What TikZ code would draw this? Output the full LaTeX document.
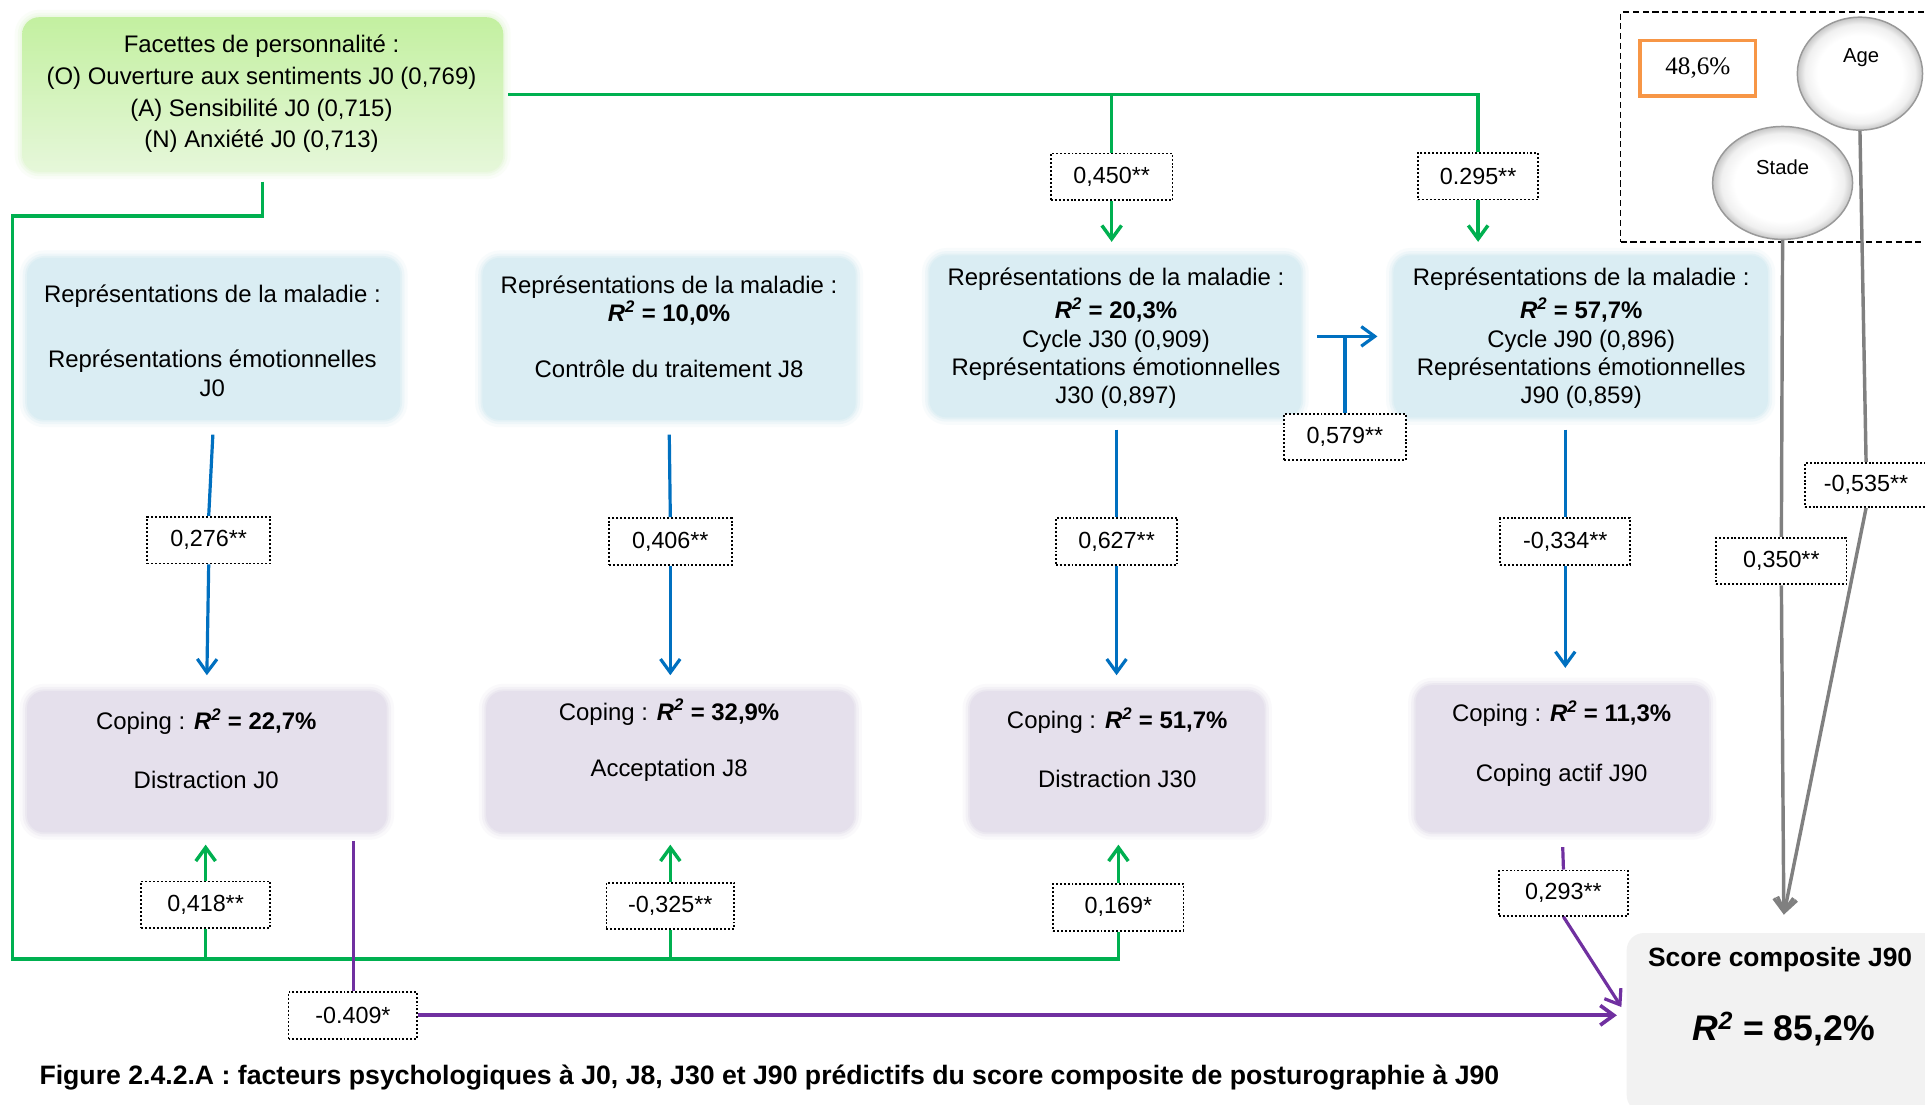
\documentclass[tikz,border=0pt]{standalone}
\usepackage{fontspec}
\setmainfont{Liberation Sans}
\newfontfamily\timesfam{Liberation Serif}
\usetikzlibrary{arrows.meta,shapes.geometric,shadows}
\definecolor{GreenTop}{HTML}{C3F0A0}
\definecolor{GreenBot}{HTML}{E6F7DA}
\definecolor{BlueF}{HTML}{DAEDF3}
\definecolor{LavF}{HTML}{E5E0EC}
\definecolor{ScoreF}{HTML}{F2F2F2}
\definecolor{GL}{HTML}{00B050}
\definecolor{BL}{HTML}{0070C0}
\definecolor{PL}{HTML}{7030A0}
\definecolor{GY}{HTML}{808080}
\definecolor{OR}{HTML}{F79646}
\pgfdeclareradialshading{bubbleshade}{\pgfpoint{0bp}{0bp}}{color(0bp)=(white); color(17bp)=(white); color(22bp)=(black!6); color(25bp)=(black!22); color(50bp)=(black!22)}
\newcommand\fmain{\fontsize{19.5}{23}\selectfont}
\newcommand\flbl{\fontsize{19}{22}\selectfont}
\newcommand\rsq{\textbf{\textit{R}}\textsuperscript{\textbf{\textit{2}}}}
\begin{document}
\begin{tikzpicture}[x=1pt,y=-1pt,
  boxbase/.style={rounded corners=14, inner sep=0pt, outer sep=0pt},
  softedge/.style={preaction={draw=#1, line width=12, opacity=.18},
                   preaction={draw=#1, line width=7, opacity=.3},
                   preaction={draw=#1, line width=3, opacity=.5}},
  greenbox/.style={boxbase, top color=GreenTop, bottom color=GreenBot, draw=none, softedge=GreenBot},
  bluebox/.style={boxbase, fill=BlueF, softedge=BlueF},
  lavbox/.style={boxbase, fill=LavF, softedge=LavF},
  txt/.style={align=center, inner sep=0pt, font=\fmain},
  lbl/.style={draw=black, dash pattern={on 1.6pt off 1.6pt}, line width=1.5, fill=white,
     inner sep=0pt, minimum height=38, font=\flbl},
  gcon/.style={draw=GL, line width=2.8},
  bcon/.style={draw=BL, line width=2.6},
  pcon/.style={draw=PL, line width=2.6},
  ycon/.style={draw=GY, line width=2.8},
  arrowtip/.style={-{Straight Barb[length=11,width=16]}},
  bubble/.style={ellipse, draw=GY!80, line width=1.2, shading=bubbleshade, inner sep=0pt}
]
\useasboundingbox (0,0) rectangle (1568,900);
\fill[white] (0,0) rectangle (1568,900);

% ---------- boxes ----------
\node[greenbox, minimum width=392, minimum height=126] (fac) at (214,77) {};
\node[txt, font=\fontsize{19.5}{25.7}\selectfont] (fact) at (213,76.5)
  {Facettes de personnalité :\\(O) Ouverture aux sentiments J0 (0,769)\\(A) Sensibilité J0 (0,715)\\(N) Anxiété J0 (0,713)};

\node[bluebox, minimum width=304, minimum height=132] (rep1) at (174,276) {};
\node[bluebox, minimum width=304, minimum height=132] (rep2) at (545,276) {};
\node[bluebox, minimum width=303, minimum height=132] (rep3) at (908.5,274) {};
\node[bluebox, minimum width=305, minimum height=132] (rep4) at (1287.5,274) {};

\node[txt] (rep1t) at (173,277.5) {Représentations de la maladie :\\[30pt]Représentations émotionnelles\\J0};
\node[txt] (rep2t) at (545,266) {Représentations de la maladie :\\\rsq\textbf{ = 10,0\%}\\[22pt]Contrôle du traitement J8};
\node[txt] (rep3t) at (909,275.5) {Représentations de la maladie :\\[4pt]\rsq\textbf{ = 20,3\%}\\Cycle J30 (0,909)\\Représentations émotionnelles\\J30 (0,897)};
\node[txt] (rep4t) at (1288,275.5) {Représentations de la maladie :\\[4pt]\rsq\textbf{ = 57,7\%}\\Cycle J90 (0,896)\\Représentations émotionnelles\\J90 (0,859)};

\node[lavbox, minimum width=293, minimum height=115] (cop1) at (168.5,620.5) {};
\node[lavbox, minimum width=300, minimum height=115] (cop2) at (546,620.5) {};
\node[lavbox, minimum width=240, minimum height=115] (cop3) at (910,620.5) {};
\node[lavbox, minimum width=239, minimum height=120] (cop4) at (1272.5,618) {};

\node[txt] (cop1t) at (168,610) {Coping : \rsq\textbf{ = 22,7\%}\\[25pt]Distraction J0};
\node[txt] (cop2t) at (545,603) {Coping : \rsq\textbf{ = 32,9\%}\\[23pt]Acceptation J8};
\node[txt] (cop3t) at (910,609) {Coping : \rsq\textbf{ = 51,7\%}\\[25pt]Distraction J30};
\node[txt] (cop4t) at (1272,605.5) {Coping : \rsq\textbf{ = 11,3\%}\\[26pt]Coping actif J90};

\node[boxbase, fill=ScoreF, minimum width=256, minimum height=146,
  drop shadow={shadow xshift=2pt, shadow yshift=-3pt, fill=black!35, opacity=.5}] (score) at (1453,833) {};
\node[txt, font=\fontsize{21.5}{25}\selectfont\bfseries] (scoret1) at (1450,782) {Score composite J90};
\node[txt, font=\fontsize{29}{34}\selectfont] (scoret2) at (1453,838) {\rsq\textbf{ = 85,2\%}};

% ---------- covariates ----------
\node[draw=black, dash pattern={on 5pt off 3pt}, line width=1.3, minimum width=290, minimum height=187, inner sep=0pt] (grp) at (1465,103.5) {};
\node[draw=OR, line width=3, minimum width=94, minimum height=45, inner sep=0pt, font=\timesfam\fontsize{20.5}{24}\selectfont] (pct) at (1383,55.5) {48,6\%};
\node[bubble, minimum width=102, minimum height=92] (age) at (1515,60) {};
\node[bubble, minimum width=114, minimum height=92] (stade) at (1452,149) {};
\node[txt, font=\fontsize{16.5}{20}\selectfont] (aget) at (1516,47) {Age};
\node[txt, font=\fontsize{16.5}{20}\selectfont] (stadet) at (1452,136) {Stade};

% ---------- labels ----------
\node[lbl, minimum width=99] (L450) at (905.5,144) {0,450**};
\node[lbl, minimum width=98] (L295) at (1204,143.5) {0.295**};
\node[lbl, minimum width=99] (L579) at (1095.5,356) {0,579**};
\node[lbl, minimum width=100] (L276) at (170,440) {0,276**};
\node[lbl, minimum width=100] (L406) at (546,441) {0,406**};
\node[lbl, minimum width=99] (L627) at (909.5,441) {0,627**};
\node[lbl, minimum width=106] (L334) at (1275,441) {-0,334**};
\node[lbl, minimum width=100, minimum height=36] (L535) at (1520,395) {-0,535**};
\node[lbl, minimum width=106] (L350) at (1451,457) {0,350**};
\node[lbl, minimum width=105] (L418) at (167.5,737) {0,418**};
\node[lbl, minimum width=104] (L325) at (546,738) {-0,325**};
\node[lbl, minimum width=106] (L169) at (911,739) {0,169*};
\node[lbl, minimum width=105, minimum height=37] (L293) at (1273.5,727.5) {0,293**};
\node[lbl, minimum width=105] (L409) at (287.5,827) {-0.409*};

% ---------- coordinates ----------
\coordinate (gcorner) at (10,176);
\coordinate (gbase) at (10,781);
\coordinate (p1) at (288,685);
\coordinate (sin) at (L409.east -| score.west);
\coordinate (gtip) at (1453,745);

% ---------- green connectors ----------
\draw[gcon] ([xshift=4]fac.east) -| (L295.north);
\draw[gcon] (L450.north |- fac.east) -- (L450.north);
\draw[gcon, arrowtip] (L450.south) -- ([yshift=11]rep3.north -| L450.south);
\draw[gcon, arrowtip] (L295.south) -- ([yshift=11]rep4.north -| L295.south);
\draw[gcon] ([yshift=-8]fac.south) |- (gcorner) -- (gbase) -| (L169.south);
\draw[gcon] (L418.south) -- (L418.south |- gbase);
\draw[gcon] (L325.south) -- (L325.south |- gbase);
\draw[gcon, arrowtip] (L418.north) -- ([yshift=-10]cop1.south -| L418.north);
\draw[gcon, arrowtip] (L325.north) -- ([yshift=-10]cop2.south -| L325.north);
\draw[gcon, arrowtip] (L169.north) -- ([yshift=-10]cop3.south -| L169.north);

% ---------- blue connectors ----------
\draw[bcon, shorten <=12] (rep1.south) -- (L276.north);
\draw[bcon, shorten <=12] (rep2.south) -- (L406.north);
\draw[bcon, shorten <=10] (rep3.south -| L627.north) -- (L627.north);
\draw[bcon, shorten <=10] (rep4.south -| L334.north) -- (L334.north);
\draw[bcon, arrowtip] (L276.south) -- ([yshift=13]cop1.north);
\draw[bcon, arrowtip] (L406.south) -- ([yshift=13]cop2.north -| L406.south);
\draw[bcon, arrowtip] (L627.south) -- ([yshift=13]cop3.north -| L627.south);
\draw[bcon, arrowtip] (L334.south) -- ([yshift=14]cop4.north -| L334.south);
\draw[bcon, arrowtip, shorten <=13, shorten >=13] (rep3.east) -- (rep4.west);
\draw[bcon] (L579.north) -- (L579.north |- rep3.east);

% ---------- purple connectors ----------
\draw[pcon] (p1) -- (L409.north -| p1);
\draw[pcon, line width=3, arrowtip, shorten >=8] (L409.east) -- (sin);
\draw[pcon, shorten <=12] (cop4.south) -- (L293.north);
\draw[pcon, arrowtip, shorten >=8] (L293.south) -- (sin);

% ---------- grey connectors ----------
\draw[ycon] (stade.south) -- (L350.north);
\draw[ycon, arrowtip] (L350.south) -- (gtip);
\draw[ycon] (age.south) -- (L535.north);
\draw[ycon, arrowtip] (L535.south) -- (gtip);

% ---------- caption ----------
\node[anchor=west, inner sep=0pt, font=\fontsize{21.7}{25}\selectfont\bfseries] (cap) at (32,878)
  {Figure 2.4.2.A : facteurs psychologiques à J0, J8, J30 et J90 prédictifs du score composite de posturographie à J90};
\end{tikzpicture}
\end{document}
